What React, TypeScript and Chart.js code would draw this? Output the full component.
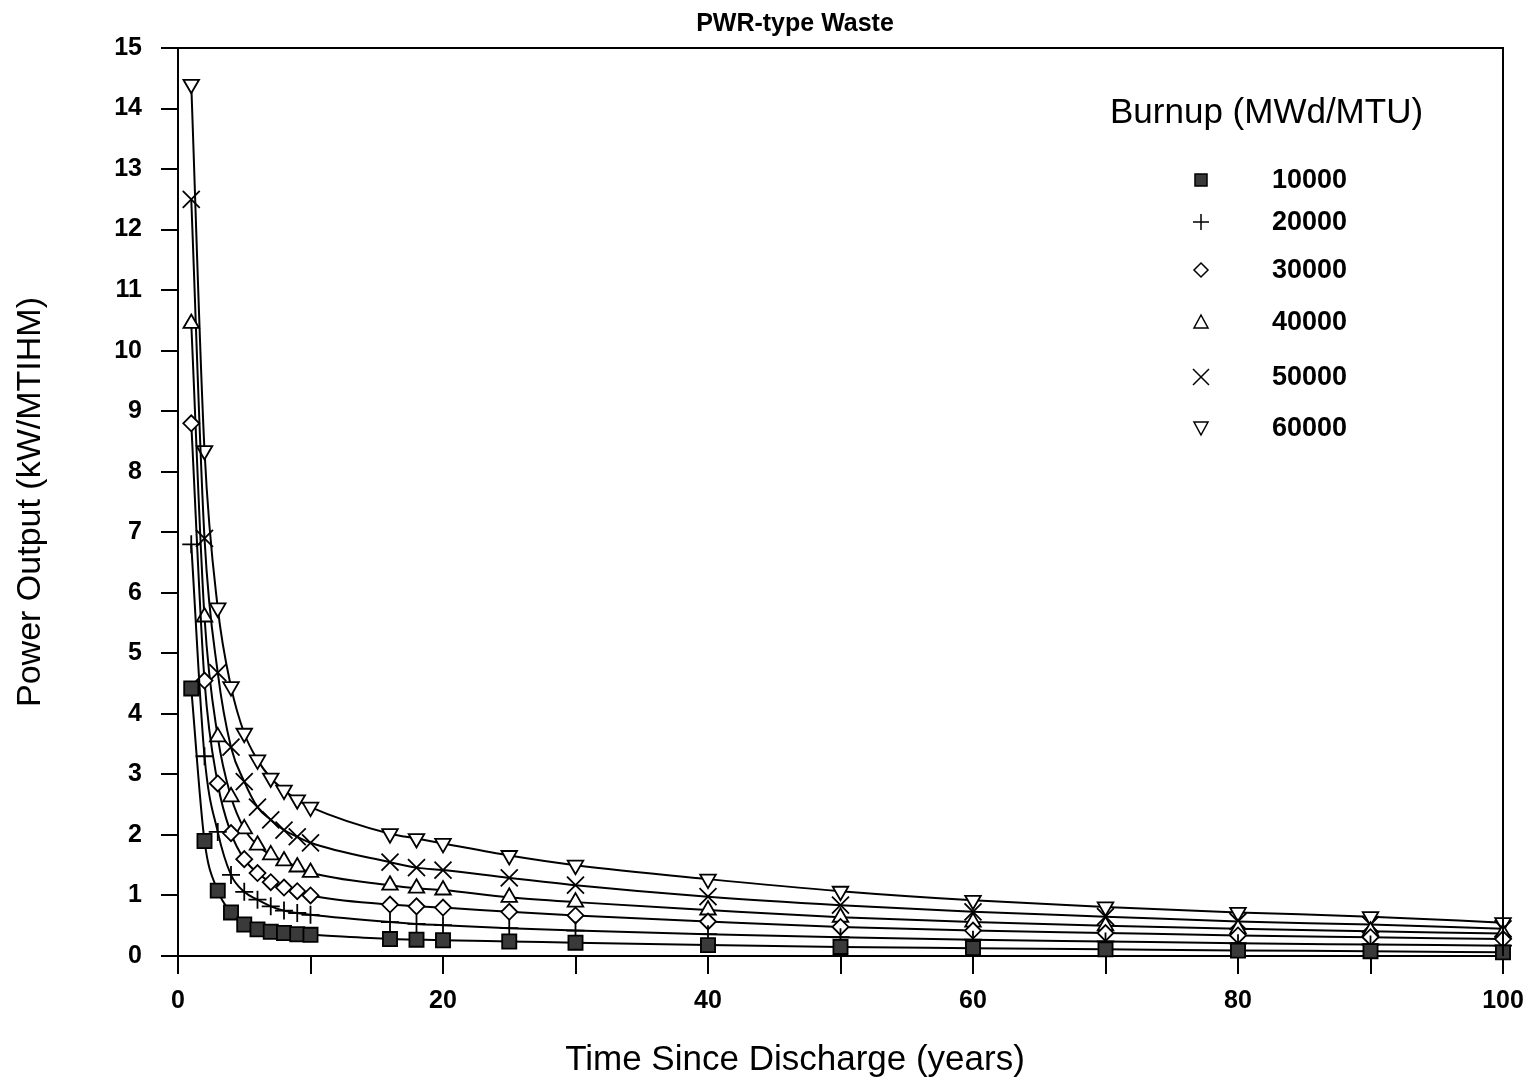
import React, { useEffect, useRef } from 'react';
import { Chart, registerables } from 'chart.js';

Chart.register(...registerables);

// ---- Data ----
const years = [1, 2, 3, 4, 5, 6, 7, 8, 9, 10, 16, 18, 20, 25, 30, 40, 50, 60, 70, 80, 90, 100];
const burnupLabels = ['10000', '20000', '30000', '40000', '50000', '60000'];
const p10000 = [4.42, 1.9, 1.08, 0.72, 0.52, 0.44, 0.4, 0.38, 0.36, 0.35, 0.28, 0.27, 0.26, 0.24, 0.22, 0.18, 0.15, 0.13, 0.11, 0.09, 0.08, 0.06];
const p20000 = [6.8, 3.3, 2.05, 1.34, 1.06, 0.93, 0.82, 0.75, 0.71, 0.68, 0.56, 0.53, 0.51, 0.46, 0.42, 0.36, 0.31, 0.27, 0.24, 0.21, 0.19, 0.17];
const p30000 = [8.8, 4.55, 2.85, 2.03, 1.6, 1.37, 1.22, 1.13, 1.07, 1.0, 0.85, 0.82, 0.8, 0.73, 0.67, 0.57, 0.48, 0.42, 0.38, 0.34, 0.31, 0.28];
const p40000 = [10.45, 5.6, 3.62, 2.63, 2.1, 1.83, 1.67, 1.57, 1.47, 1.38, 1.17, 1.12, 1.09, 0.97, 0.89, 0.76, 0.64, 0.56, 0.5, 0.45, 0.41, 0.37];
const p50000 = [12.5, 6.9, 4.68, 3.45, 2.88, 2.46, 2.25, 2.08, 1.97, 1.87, 1.55, 1.46, 1.42, 1.29, 1.17, 0.98, 0.84, 0.73, 0.65, 0.57, 0.52, 0.45];
const p60000 = [14.4, 8.35, 5.75, 4.45, 3.68, 3.24, 2.94, 2.74, 2.58, 2.46, 2.02, 1.94, 1.86, 1.66, 1.5, 1.27, 1.07, 0.92, 0.81, 0.72, 0.65, 0.55];
const seriesValues = [p10000, p20000, p30000, p40000, p50000, p60000];

const chartTitle = 'PWR-type Waste';
const xTitle = 'Time Since Discharge (years)';
const yTitle = 'Power Output (kW/MTIHM)';
const legendTitle = 'Burnup (MWd/MTU)';
const xMin = 0;
const xMax = 100;
const xStep = 10;
const xLabelEvery = 20;
const yMin = 0;
const yMax = 15;
const yStep = 1;

const FONT = '"Liberation Sans", Arial, sans-serif';

type Sty = { pointStyle: any; radius: number; rotation: number; bg: string };
const markerStyles: Sty[] = [
  { pointStyle: 'rect', radius: 10, rotation: 0, bg: '#3a3a3a' },
  { pointStyle: 'cross', radius: 9, rotation: 0, bg: '#fff' },
  { pointStyle: 'rectRot', radius: 8, rotation: 0, bg: '#fff' },
  { pointStyle: 'triangle', radius: 9, rotation: 0, bg: '#fff' },
  { pointStyle: 'crossRot', radius: 12, rotation: 0, bg: '#fff' },
  { pointStyle: 'triangle', radius: 9, rotation: 180, bg: '#fff' },
];

function drawSymbol(ctx: CanvasRenderingContext2D, idx: number, x: number, y: number) {
  ctx.save();
  ctx.strokeStyle = '#000';
  ctx.lineWidth = 1.5;
  ctx.beginPath();
  if (idx === 0) {
    ctx.fillStyle = '#3a3a3a';
    ctx.rect(x - 6, y - 6, 12, 12);
    ctx.fill();
    ctx.stroke();
  } else if (idx === 1) {
    ctx.moveTo(x - 8, y); ctx.lineTo(x + 8, y);
    ctx.moveTo(x, y - 8); ctx.lineTo(x, y + 8);
    ctx.stroke();
  } else if (idx === 2) {
    ctx.moveTo(x, y - 7); ctx.lineTo(x + 7, y); ctx.lineTo(x, y + 7); ctx.lineTo(x - 7, y); ctx.closePath();
    ctx.stroke();
  } else if (idx === 3) {
    ctx.moveTo(x, y - 7); ctx.lineTo(x + 7, y + 6); ctx.lineTo(x - 7, y + 6); ctx.closePath();
    ctx.stroke();
  } else if (idx === 4) {
    ctx.moveTo(x - 8, y - 8); ctx.lineTo(x + 8, y + 8);
    ctx.moveTo(x + 8, y - 8); ctx.lineTo(x - 8, y + 8);
    ctx.stroke();
  } else {
    ctx.moveTo(x, y + 7); ctx.lineTo(x + 7, y - 6); ctx.lineTo(x - 7, y - 6); ctx.closePath();
    ctx.stroke();
  }
  ctx.restore();
}

const decorPlugin = {
  id: 'decor',
  afterDraw(chart: any) {
    const { ctx, chartArea } = chart;
    const { left, right, top, bottom } = chartArea;
    ctx.save();
    // frame
    ctx.strokeStyle = '#000';
    ctx.lineWidth = 2;
    ctx.beginPath();
    ctx.moveTo(left, top);
    ctx.lineTo(right, top);
    ctx.lineTo(right, bottom);
    ctx.stroke();
    // chart title
    ctx.fillStyle = '#000';
    ctx.textAlign = 'center';
    ctx.textBaseline = 'middle';
    ctx.font = `bold 25px ${FONT}`;
    ctx.fillText(chartTitle, 795, 24);
    // x title
    ctx.font = `35px ${FONT}`;
    ctx.fillText(xTitle, 795, 1060);
    // legend
    ctx.textAlign = 'left';
    ctx.font = `35px ${FONT}`;
    ctx.fillText(legendTitle, 1110, 113);
    const rows = [180, 222, 270, 322, 377, 428];
    ctx.font = `bold 27px ${FONT}`;
    burnupLabels.forEach((lab, i) => {
      drawSymbol(ctx, i, 1201, rows[i]);
      ctx.fillStyle = '#000';
      ctx.fillText(lab, 1272, rows[i] + 1);
    });
    ctx.restore();
  },
};

export default function App() {
  const ref = useRef<HTMLCanvasElement>(null);
  useEffect(() => {
    const canvas = ref.current;
    if (!canvas) return;
    const datasets = seriesValues.map((vals, i) => ({
      label: burnupLabels[i],
      data: years.map((x, j) => ({ x, y: vals[j] })),
      borderColor: '#000',
      borderWidth: 2,
      backgroundColor: markerStyles[i].bg,
      pointStyle: markerStyles[i].pointStyle,
      pointRadius: markerStyles[i].radius,
      pointRotation: markerStyles[i].rotation,
      pointBorderColor: '#000',
      pointBackgroundColor: markerStyles[i].bg,
      pointBorderWidth: 1.8,
      cubicInterpolationMode: 'monotone' as const,
      fill: false,
      clip: false as any,
    }));
    const chart = new Chart(canvas, {
      type: 'line',
      data: { datasets },
      options: {
        animation: false,
        responsive: false,
        devicePixelRatio: 1,
        layout: { padding: { top: 48, right: 0, left: 0, bottom: 0 } },
        plugins: {
          legend: { display: false },
          title: { display: false },
          tooltip: { enabled: false },
        },
        scales: {
          x: {
            type: 'linear',
            min: xMin,
            max: xMax,
            ticks: {
              stepSize: xStep,
              autoSkip: false,
              maxRotation: 0,
              color: '#000',
              padding: 12,
              font: { family: FONT, size: 25, weight: 'bold' },
              callback: (v: any) => (Number(v) % xLabelEvery === 0 ? String(v) : ''),
            },
            grid: { drawOnChartArea: false, drawTicks: true, tickLength: 18, color: '#000', lineWidth: 2 },
            border: { display: true, color: '#000', width: 2 },
            afterFit: (scale: any) => {
              scale.height = 127;
              scale.paddingRight = 30;
              scale.paddingLeft = 0;
            },
          },
          y: {
            type: 'linear',
            min: yMin,
            max: yMax,
            ticks: {
              stepSize: yStep,
              autoSkip: false,
              color: '#000',
              padding: 19,
              font: { family: FONT, size: 25, weight: 'bold' },
            },
            grid: { drawOnChartArea: false, drawTicks: true, tickLength: 17, color: '#000', lineWidth: 2 },
            border: { display: true, color: '#000', width: 2 },
            title: {
              display: true,
              text: yTitle,
              color: '#000',
              font: { family: FONT, size: 34 },
              padding: { top: 10, bottom: 0 },
            },
            afterFit: (scale: any) => {
              scale.width = 178;
              scale.paddingTop = 0;
            },
          },
        },
      },
      plugins: [decorPlugin],
    });
    return () => chart.destroy();
  }, []);
  return (
    <div style={{ position: 'fixed', left: 0, top: 0, width: 1533, height: 1083, background: '#fff' }}>
      <canvas ref={ref} width={1533} height={1083} style={{ display: 'block' }} />
    </div>
  );
}
